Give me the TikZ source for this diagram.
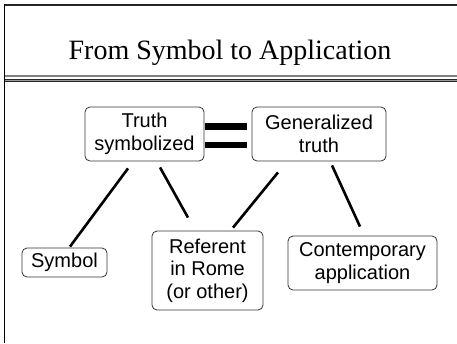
\documentclass[tikz,border=0pt]{standalone}
\usepackage{fontspec}
\setmainfont{Liberation Sans}
\newfontfamily\titlefont{Liberation Serif}
\begin{document}
\begin{tikzpicture}[x=1pt,y=-1pt,
  box/.style={draw=black!80, line width=0.8pt, rounded corners=5pt, inner sep=0pt,
    align=center, font=\fontsize{20}{22.5}\selectfont},
  link/.style={line width=2.6pt, black},
  bar/.style={line width=6.5pt, black}]
\useasboundingbox (0,0) rectangle (457,343);
% slide frame
\draw[line width=1.6pt, black!85] (4,4.8) -- (457,4.8);
\draw[line width=1.6pt, black] (4.5,4) -- (4.5,343);
% title and its rule
\node[font=\titlefont\fontsize{28}{30}\selectfont, anchor=base] (title) at (230,59) {From Symbol to Application};
\fill[black!50] (5,75) rectangle (457,77.2);
\fill[black!40] (5,78.6) rectangle (457,82.4);
\draw[line width=1.2pt, black!85] (5,79.4) -- (457,79.4);
\draw[line width=1.0pt, black!85] (5,81.8) -- (457,81.8);
% concept boxes
\node[box, minimum width=119pt, minimum height=54pt] (truth) at (144.5,134) {Truth\\symbolized};
\node[box, minimum width=134pt, minimum height=54pt] (gen) at (319,134) {Generalized\\truth};
\node[box, minimum width=85pt, minimum height=29pt] (symbol) at (64.5,262.5) {Symbol};
\node[box, minimum width=111pt, minimum height=79pt] (ref) at (207.5,270.5) {Referent\\in Rome\\(or other)};
\node[box, minimum width=149pt, minimum height=54pt] (app) at (362.5,263) {Contemporary\\application};
% equality bars
\draw[bar] ([shift={(1,-7.5)}]truth.east) -- ([shift={(-5,-7.5)}]gen.west);
\draw[bar] ([shift={(1,11)}]truth.east) -- ([shift={(-5,11)}]gen.west);
% connectors
\draw[link] ([shift={(-16.5,7)}]truth.south) -- ([shift={(5.5,-1)}]symbol.north);
\draw[link] ([shift={(15.5,6)}]truth.south) -- ([shift={(-19.5,-13)}]ref.north);
\draw[link] ([shift={(-41,11)}]gen.south) -- ([shift={(25.5,-3)}]ref.north);
\draw[link] ([shift={(13,4)}]gen.south) -- ([shift={(-2.5,-9)}]app.north);
\end{tikzpicture}
\end{document}
